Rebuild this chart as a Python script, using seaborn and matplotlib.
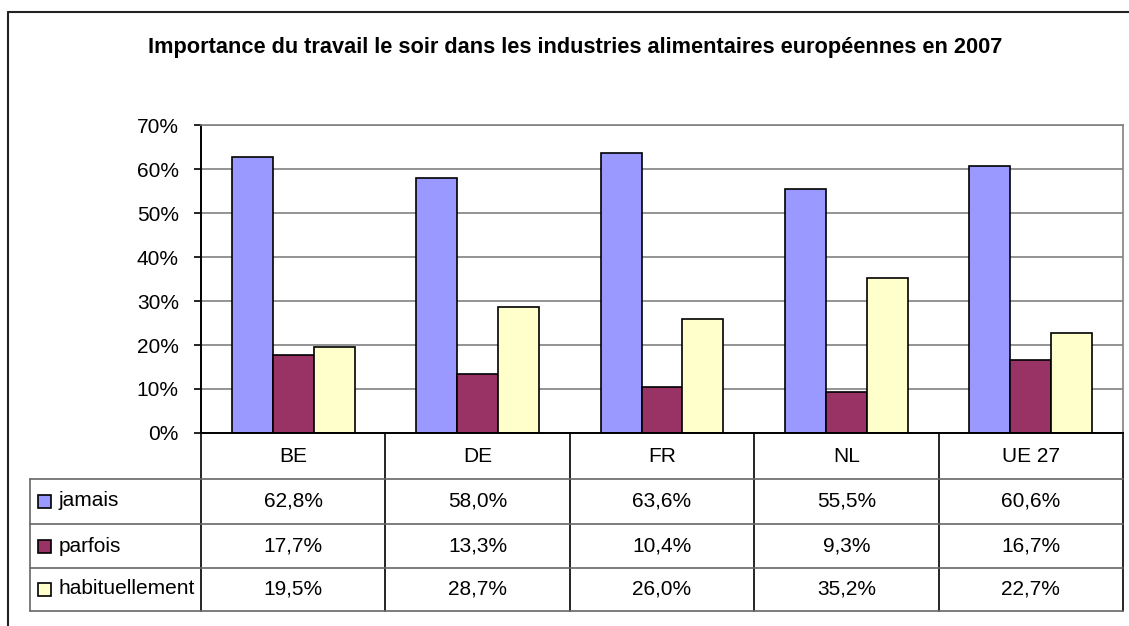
import pandas as pd
import seaborn as sns
import matplotlib.pyplot as plt
from matplotlib.lines import Line2D
from matplotlib.patches import Rectangle
from matplotlib.transforms import blended_transform_factory

pays = ['BE', 'DE', 'FR', 'NL', 'UE 27']
series = ['jamais', 'parfois', 'habituellement']
jamais = [62.8, 58.0, 63.6, 55.5, 60.6]
parfois = [17.7, 13.3, 10.4, 9.3, 16.7]
habituellement = [19.5, 28.7, 26.0, 35.2, 22.7]
couleurs = ['#9999FF', '#993366', '#FFFFCC']
titre = "Importance du travail le soir dans les industries alimentaires européennes en 2007"

valeurs = {'jamais': jamais, 'parfois': parfois, 'habituellement': habituellement}
df = pd.DataFrame([(p, s, valeurs[s][i]) for s in series for i, p in enumerate(pays)],
                  columns=['pays', 'serie', 'valeur'])

sns.set_style('white')
plt.rcParams['font.family'] = ['Liberation Sans', 'DejaVu Sans']
plt.rcParams['text.color'] = 'black'
plt.rcParams['ytick.labelcolor'] = 'black'
FS = 15

W, H = 1129, 626
fig = plt.figure(figsize=(W / 100, H / 100), dpi=100)


def fx(px):
    return px / W


def fy(py):
    return 1 - py / H


# zone du graphique (en pixels de l'image)
left, right, top, bottom = 201, 1123, 125, 433
ax = fig.add_axes([fx(left), fy(bottom), (right - left) / W, (bottom - top) / H])

sns.barplot(data=df, x='pays', y='valeur', hue='serie', order=pays, hue_order=series,
            palette=couleurs, saturation=1, width=2 / 3, gap=0,
            edgecolor='black', linewidth=1.2, legend=False, ax=ax)

ax.set_xlim(-0.5, len(pays) - 0.5)
ax.set_ylim(0, 70)
ax.set_yticks(range(0, 71, 10))
ax.set_yticklabels([f'{v}%' for v in range(0, 71, 10)])
ax.set_xticks([])
ax.set_xlabel('')
ax.set_ylabel('')
ax.yaxis.grid(True, color='#808080', lw=1.2)
ax.set_axisbelow(True)
ax.tick_params(axis='y', direction='out', length=5, width=1.2, color='black',
               labelcolor='black', labelsize=FS, pad=11, left=True)
for side in ['left', 'bottom']:
    ax.spines[side].set_color('black')
    ax.spines[side].set_linewidth(1.4)
for side in ['top', 'right']:
    ax.spines[side].set_color('#808080')
    ax.spines[side].set_linewidth(1.2)


def ya(py):
    return (bottom - py) / (bottom - top)


# tableau de données sous le graphique
trans = blended_transform_factory(ax.transData, ax.transAxes)
row_lines = [479, 524, 568, 611]
row_mid = [501, 546, 589]
for i in range(len(pays) + 1):
    ax.add_line(Line2D([i - 0.5, i - 0.5], [0, ya(611)], transform=trans,
                       color='black', lw=1.2, clip_on=False))
for py in row_lines:
    fig.add_artist(Line2D([fx(30), fx(right)], [fy(py), fy(py)], color='#666666', lw=1.2))
fig.add_artist(Line2D([fx(30), fx(30)], [fy(479), fy(611)], color='#666666', lw=1.2))

for i, p in enumerate(pays):
    ax.text(i, ya(456), p, transform=trans, ha='center', va='center', fontsize=FS)
for s, c, py in zip(series, couleurs, row_mid):
    for i, v in enumerate(valeurs[s]):
        ax.text(i, ya(py), f'{v:.1f}%'.replace('.', ','), transform=trans,
                ha='center', va='center', fontsize=FS)
    fig.add_artist(Rectangle((fx(38), fy(py + 7)), 13 / W, 13 / H, facecolor=c,
                             edgecolor='black', lw=1.2, transform=fig.transFigure))
    fig.text(fx(59), fy(py), s, ha='left', va='center', fontsize=FS)

# cadre extérieur
fig.add_artist(Line2D([fx(8), 1], [fy(12), fy(12)], color='#222222', lw=1.5))
fig.add_artist(Line2D([fx(8), fx(8)], [fy(12), 0], color='#222222', lw=1.5))

fig.text(fx(575), fy(48), titre, ha='center', va='center', fontsize=15.7, weight='bold')

fig.savefig('out.png', dpi=100)
